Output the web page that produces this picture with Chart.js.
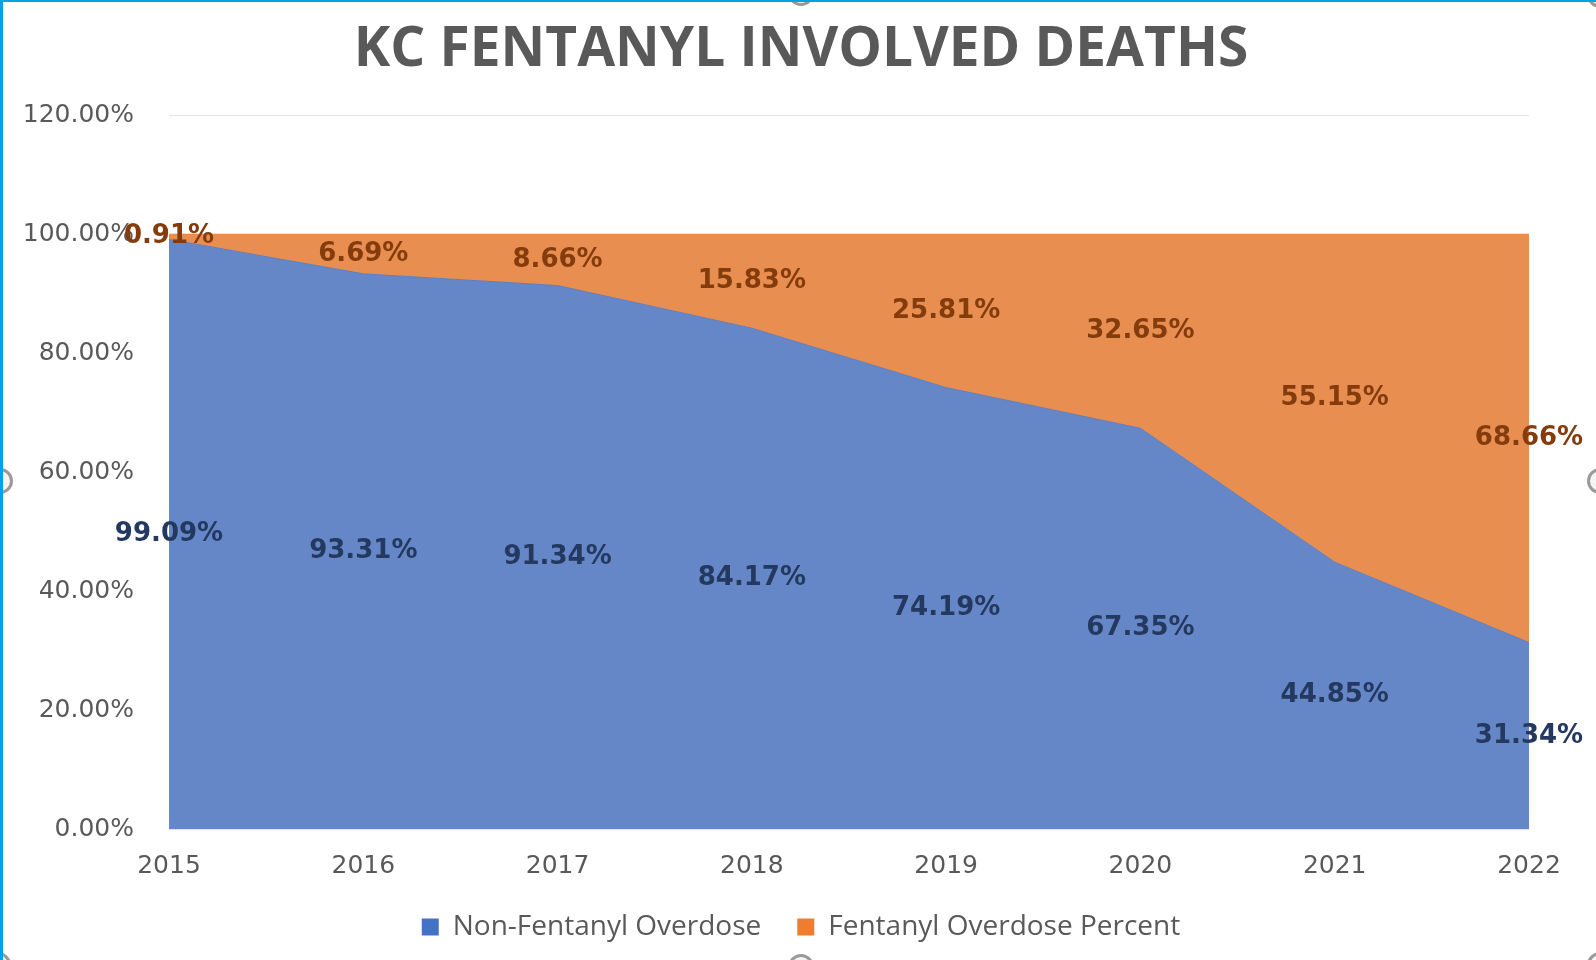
<!DOCTYPE html>
<html>
<head>
<meta charset="utf-8">
<script src="https://cdn.jsdelivr.net/npm/chart.js@4"></script>
<style>
  html, body { margin: 0; padding: 0; background: #fff; }
  #moldura {
    position: relative; width: 1596px; height: 960px; overflow: hidden;
    box-sizing: border-box; border-left: 3px solid #00a3e4; border-top: 2px solid #00a3e4;
  }
  #grafico { position: absolute; left: 0; top: 0; }
  .alca {
    position: absolute; width: 20px; height: 20px; border-radius: 50%;
    border: 3px solid #9a9a9a; background: #f4f4f4;
  }
</style>
</head>
<body>
<div id="moldura">
  <canvas id="grafico" width="1596" height="960"></canvas>
  <div class="alca" style="left:785px; top:-22px"></div>
  <div class="alca" style="left:785px; top:952px"></div>
  <div class="alca" style="left:-16px; top:466px"></div>
  <div class="alca" style="left:1584px; top:466px"></div>
  <div class="alca" style="left:1584px; top:-20px"></div>
  <div class="alca" style="left:1584px; top:950px"></div>
  <div class="alca" style="left:-18px; top:950px"></div>
</div>
<script>
// dados
const anos = ['2015', '2016', '2017', '2018', '2019', '2020', '2021', '2022'];
const naoFentanil = [99.09, 93.31, 91.34, 84.17, 74.19, 67.35, 44.85, 31.34];
const fentanil = [0.91, 6.69, 8.66, 15.83, 25.81, 32.65, 55.15, 68.66];
const nomes = ['Non-Fentanyl Overdose', 'Fentanyl Overdose Percent'];
const marcasY = [0, 20, 40, 60, 80, 100, 120];

// rotulos no meio de cada faixa
const rotulos = {
  id: 'rotulos',
  afterDatasetsDraw(chart) {
    const ctx = chart.ctx;
    const x = chart.scales.x;
    const y = chart.scales.y;
    ctx.save();
    ctx.font = 'bold 26px "DejaVu Sans"';
    ctx.textAlign = 'center';
    ctx.textBaseline = 'middle';
    for (let i = 0; i < anos.length; i++) {
      ctx.fillStyle = '#24395f';
      ctx.fillText(naoFentanil[i].toFixed(2) + '%', x.getPixelForValue(i), y.getPixelForValue(naoFentanil[i] / 2));
      ctx.fillStyle = '#843c0c';
      ctx.fillText(fentanil[i].toFixed(2) + '%', x.getPixelForValue(i), y.getPixelForValue(naoFentanil[i] + fentanil[i] / 2));
    }
    ctx.restore();
  }
};

const data = {
  labels: anos,
  datasets: [{
    label: nomes[0],
    data: naoFentanil,
    backgroundColor: '#6687c7',
    borderColor: '#5c7ec0',
    borderWidth: 1,
    fill: 'origin',
    pointRadius: 0,
    tension: 0
  },
  {
    label: nomes[1],
    data: fentanil,
    backgroundColor: '#e88e51',
    borderColor: '#e88e51',
    borderWidth: 0,
    fill: '-1',
    pointRadius: 0,
    tension: 0
  }]
};

const config = {
  type: 'line',
  data: data,
  plugins: [rotulos],
  options: {
    responsive: false,
    animation: false,
    layout: { padding: { left: 0, right: 0, top: 0, bottom: 11 } },
    plugins: {
      title: {
        display: true,
        text: 'KC FENTANYL INVOLVED DEATHS',
        color: '#595959',
        font: { family: '"Open Sans"', size: 55, weight: 'bold' },
        padding: { top: 15, bottom: 32 }
      },
      legend: {
        position: 'bottom',
        labels: {
          color: '#595959',
          font: { family: '"Open Sans"', size: 28 },
          boxWidth: 17,
          boxHeight: 17,
          padding: 36,
          generateLabels: function (chart) {
            const cores = ['#4472c4', '#ed7d31'];
            return nomes.map(function (n, i) {
              return { text: n, fillStyle: cores[i], strokeStyle: cores[i], lineWidth: 0, datasetIndex: i, fontColor: '#595959' };
            });
          }
        }
      },
      tooltip: { enabled: false }
    },
    scales: {
      x: {
        offset: false,
        grid: { display: false, drawTicks: false },
        border: { display: false },
        ticks: { color: '#595959', font: { family: '"DejaVu Sans"', size: 25 }, padding: 22, maxRotation: 0 },
        afterFit: function (s) { s.height = 48; }
      },
      y: {
        stacked: true,
        min: 0,
        max: 120,
        afterBuildTicks: function (s) { s.ticks = marcasY.map(function (v) { return { value: v }; }); },
        grid: { color: '#e4e4e4', drawTicks: false },
        border: { display: false },
        ticks: {
          color: '#595959',
          font: { family: '"DejaVu Sans"', size: 25 },
          padding: 35,
          callback: function (v) { return v.toFixed(2) + '%'; }
        },
        afterFit: function (s) { s.width = 166; }
      },
      // margem da direita, sem nada desenhado
      dir: {
        type: 'linear',
        position: 'right',
        grid: { display: false, drawTicks: false },
        border: { display: false },
        ticks: { display: false },
        afterFit: function (s) { s.width = 70; }
      }
    }
  }
};

const myChart = new Chart(document.getElementById('grafico'), config);
</script>
</body>
</html>
